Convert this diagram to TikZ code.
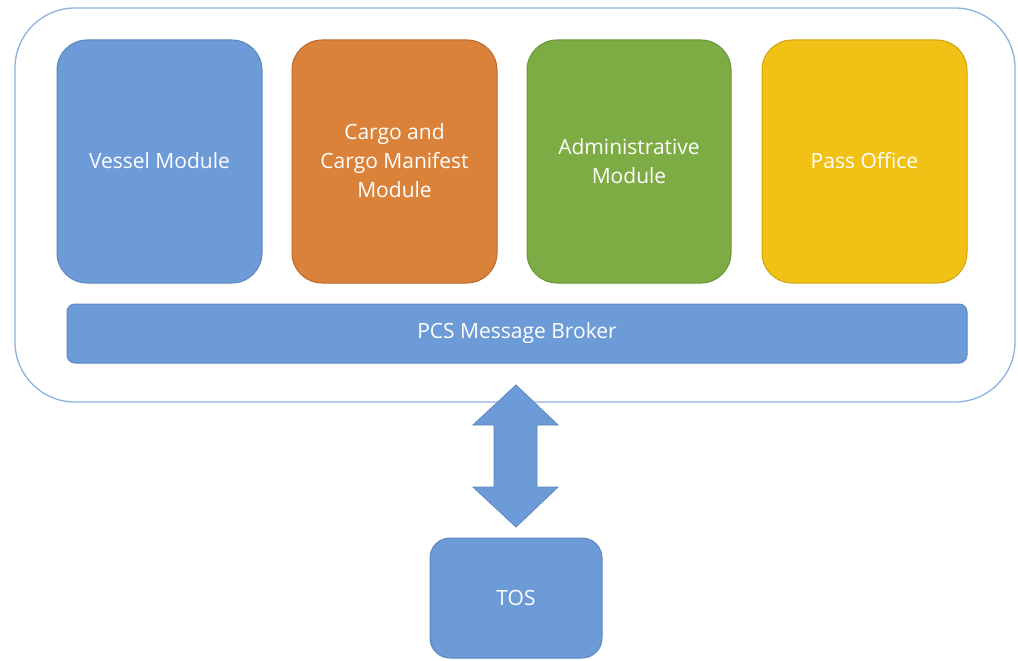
\documentclass[tikz,border=0pt]{standalone}
\usepackage{fontspec}
\setmainfont{Open Sans}
\definecolor{cblue}{HTML}{6D9BD7}
\definecolor{cblueb}{HTML}{5B86C0}
\definecolor{corange}{HTML}{DA823A}
\definecolor{corangeb}{HTML}{B86A2C}
\definecolor{cgreen}{HTML}{7DAC44}
\definecolor{cgreenb}{HTML}{6A9538}
\definecolor{cyellow}{HTML}{F1C116}
\definecolor{cyellowb}{HTML}{CFA410}
\definecolor{couter}{HTML}{8CB2E2}
\begin{document}
\begin{tikzpicture}[x=1pt,y=-1pt,
  modbox/.style={rounded corners=30pt, line width=1pt},
  lbl/.style={text=white, font=\fontsize{21}{29}\selectfont, align=center}]
\useasboundingbox (0,0) rectangle (1018,661);
% outer container
\draw[couter, line width=1.3pt, rounded corners=60pt] (15,8) rectangle (1015,402);
% modules
\draw[modbox, fill=cblue, draw=cblueb] (57,40) rectangle (262,283);
\node[lbl] (vessel) at (159.5,161) {Vessel Module};
\draw[modbox, fill=corange, draw=corangeb] (292,40) rectangle (497,283);
\node[lbl] (cargo) at (394.5,161) {Cargo and\\Cargo Manifest\\Module};
\draw[modbox, fill=cgreen, draw=cgreenb] (527,40) rectangle (731,283);
\node[lbl] (admin) at (629,161) {Administrative\\Module};
\draw[modbox, fill=cyellow, draw=cyellowb] (762,40) rectangle (967,283);
\node[lbl] (pass) at (864.5,161) {Pass Office};
% broker
\draw[fill=cblue, draw=cblueb, line width=1pt, rounded corners=8pt] (67,304) rectangle (967,363);
\node[lbl] (broker) at (517,333.5) {PCS Message Broker};
% double arrow
\draw[fill=cblue, draw=cblueb, line width=0.8pt]
  (516,385) -- (558,425) -- (537,425) -- (537,487) -- (558,487) -- (516,527)
  -- (473,487) -- (494,487) -- (494,425) -- (473,425) -- cycle;
% TOS
\draw[fill=cblue, draw=cblueb, line width=1pt, rounded corners=20pt] (430,538) rectangle (602,658);
\node[lbl] (tos) at (516,598) {TOS};
\end{tikzpicture}
\end{document}
